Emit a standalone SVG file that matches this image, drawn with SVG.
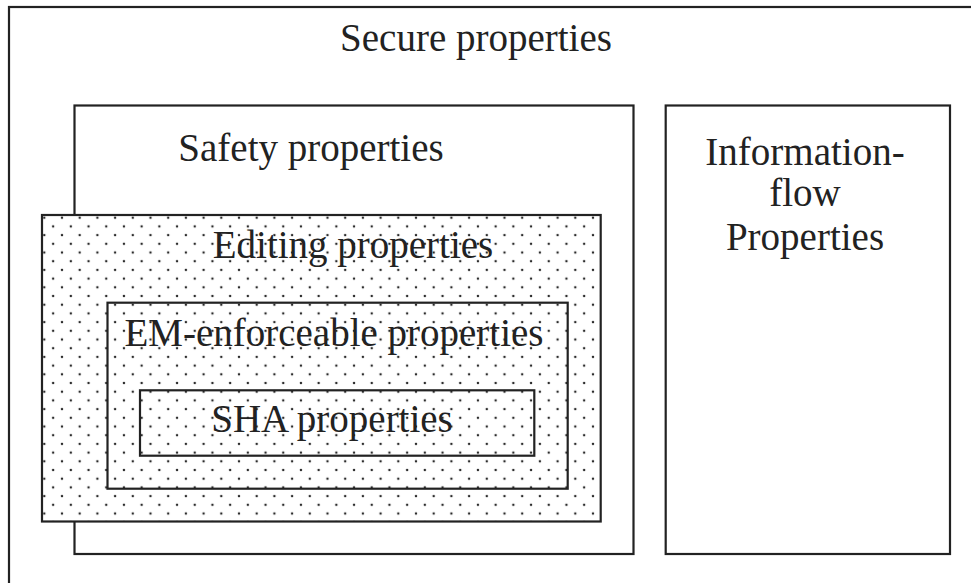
<svg xmlns="http://www.w3.org/2000/svg" width="971" height="583" viewBox="0 0 971 583">
  <style>
    .box { fill: none; stroke: #222; stroke-width: 2.2; }
    .lbl { font-family: "Liberation Serif", "Times New Roman", serif; font-size: 39px; fill: #222; text-anchor: middle; }
    .dot { fill: #2a2a2a; }
  </style>
  <defs>
    <!-- staggered dot fill for the editing-properties region -->
    <pattern id="dots" patternUnits="userSpaceOnUse" x="44.3" y="217.7" width="17.7" height="17.4">
      <rect width="17.7" height="17.4" fill="#fff"/>
      <circle class="dot" cx="0" cy="0" r="1.25"/>
      <circle class="dot" cx="17.7" cy="0" r="1.25"/>
      <circle class="dot" cx="0" cy="17.4" r="1.25"/>
      <circle class="dot" cx="17.7" cy="17.4" r="1.25"/>
      <circle class="dot" cx="8.85" cy="8.7" r="1.25"/>
    </pattern>
  </defs>
  <rect width="971" height="583" fill="#fff"/>

  <g id="secure">
    <rect class="box" x="9" y="7" width="980" height="600"/>
    <text class="lbl" x="476" y="51">Secure properties</text>
  </g>

  <g id="safety">
    <rect class="box" x="74.5" y="105.5" width="559" height="448.5"/>
    <text class="lbl" x="311" y="161">Safety properties</text>
  </g>

  <g id="infoflow">
    <rect class="box" x="665.7" y="105.5" width="284.3" height="448.5"/>
    <text class="lbl" x="805" y="165">Information-</text>
    <text class="lbl" x="805" y="206">flow</text>
    <text class="lbl" x="805" y="250">Properties</text>
  </g>

  <g id="editing">
    <rect x="42" y="215" width="558.7" height="306.5" fill="url(#dots)" stroke="#222" stroke-width="2.2"/>
    <text class="lbl" x="353" y="258">Editing properties</text>
  </g>

  <g id="em">
    <rect class="box" x="107.5" y="302.7" width="460.2" height="186"/>
    <text class="lbl" x="334" y="346">EM-enforceable properties</text>
  </g>

  <g id="sha">
    <rect class="box" x="140" y="390.3" width="394.3" height="65.4"/>
    <text class="lbl" x="332" y="432">SHA properties</text>
  </g>

  <g id="connectors"></g>
</svg>
